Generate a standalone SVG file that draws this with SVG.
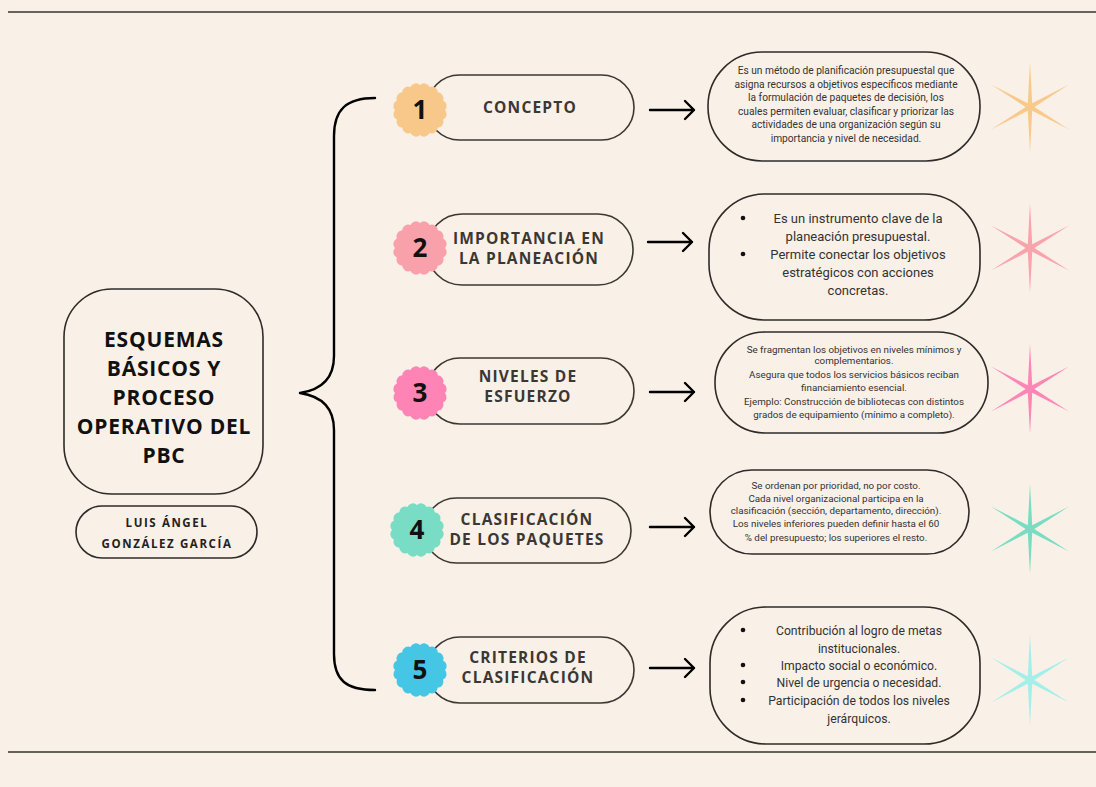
<svg xmlns="http://www.w3.org/2000/svg" xmlns:xlink="http://www.w3.org/1999/xlink" width="1096" height="787" viewBox="0 0 1096 787">
<defs>
<style>
.hd{font-family:"Open Sans","Noto Sans",sans-serif;font-weight:700;fill:#3b3733;text-anchor:middle;font-size:15.5px;letter-spacing:1.2px}
.ttl{font-family:"Open Sans","Noto Sans",sans-serif;font-weight:700;fill:#111;text-anchor:middle;font-size:21px;letter-spacing:0.8px}
.au{font-family:"Open Sans","Noto Sans",sans-serif;font-weight:700;fill:#222;text-anchor:middle;font-size:11.5px;letter-spacing:1.6px}
.num{font-family:"Open Sans","Noto Sans",sans-serif;font-weight:700;fill:#111;text-anchor:middle;font-size:26px}
.bd{font-family:Roboto,"Liberation Sans",sans-serif;fill:#333;text-anchor:middle}
.box{fill:none;stroke:#2e2b29;stroke-width:1.6}
.pill{fill:none;stroke:#3b3733;stroke-width:1.6}
.conn{fill:none;stroke:#000;stroke-width:2.4;stroke-linecap:round;stroke-linejoin:round}
</style>
<path id="badge" d="M25 0 A6 6 0 0 1 23.1 9.57 A6 6 0 0 1 17.68 17.68 A6 6 0 0 1 9.57 23.1 A6 6 0 0 1 0 25 A6 6 0 0 1 -9.57 23.1 A6 6 0 0 1 -17.68 17.68 A6 6 0 0 1 -23.1 9.57 A6 6 0 0 1 -25 0 A6 6 0 0 1 -23.1 -9.57 A6 6 0 0 1 -17.68 -17.68 A6 6 0 0 1 -9.57 -23.1 A6 6 0 0 1 0 -25 A6 6 0 0 1 9.57 -23.1 A6 6 0 0 1 17.68 -17.68 A6 6 0 0 1 23.1 -9.57 A6 6 0 0 1 25 0 Z"/>
<path id="star" d="M0 -45 L2.2 -3.8 L38.97 -22.5 L4.4 0 L38.97 22.5 L2.2 3.8 L0 45 L-2.2 3.8 L-38.97 22.5 L-4.4 0 L-38.97 -22.5 L-2.2 -3.8 Z"/>
</defs>
<rect width="1096" height="787" fill="#f9f0e7"/>
<line x1="8" y1="12" x2="1096" y2="12" stroke="#333" stroke-width="1.3"/>
<line x1="8" y1="752" x2="1096" y2="752" stroke="#333" stroke-width="1.3"/>

<g id="connectors">
<path class="conn" d="M375 98 C346 98 334 110 334 136 L334 356 C334 380 320 390 300 393 C320 396 334 406 334 430 L334 654 C334 680 346 690 375 690"/>
<path class="conn" d="M650 110 H694 M685 101 L694 110 L685 119"/>
<path class="conn" d="M648 242 H692 M683 233 L692 242 L683 251"/>
<path class="conn" d="M650 392 H694 M685 383 L694 392 L685 401"/>
<path class="conn" d="M650 527 H694 M685 518 L694 527 L685 536"/>
<path class="conn" d="M650 668 H694 M685 659 L694 668 L685 677"/>
</g>

<g id="title">
<rect x="64" y="289" width="199" height="205" rx="48" class="box"/>
<text class="ttl"><tspan x="164" y="347">ESQUEMAS</tspan><tspan x="164" y="376">BÁSICOS Y</tspan><tspan x="164" y="405">PROCESO</tspan><tspan x="164" y="434">OPERATIVO DEL</tspan><tspan x="164" y="463">PBC</tspan></text>
</g>

<g id="author">
<rect x="76" y="506" width="181" height="52" rx="26" class="box"/>
<text class="au"><tspan x="167" y="527">LUIS ÁNGEL</tspan><tspan x="167" y="548">GONZÁLEZ GARCÍA</tspan></text>
</g>

<g id="n1">
<rect x="427" y="75" width="207" height="65" rx="32.5" class="pill"/>
<use xlink:href="#badge" href="#badge" x="420" y="110" fill="#f8c88b"/>
<text class="num" x="420" y="119">1</text>
<text class="hd" x="530" y="113">CONCEPTO</text>
</g>
<g id="n2">
<rect x="427" y="214" width="206" height="71" rx="35" class="pill"/>
<use xlink:href="#badge" href="#badge" x="420" y="248" fill="#f9a1ab"/>
<text class="num" x="420" y="257">2</text>
<text class="hd"><tspan x="529" y="244">IMPORTANCIA EN</tspan><tspan x="529" y="264">LA PLANEACIÓN</tspan></text>
</g>
<g id="n3">
<rect x="427" y="358" width="207" height="66" rx="33" class="pill"/>
<use xlink:href="#badge" href="#badge" x="420" y="393" fill="#fd84b5"/>
<text class="num" x="420" y="402">3</text>
<text class="hd"><tspan x="528" y="382">NIVELES DE</tspan><tspan x="528" y="402">ESFUERZO</tspan></text>
</g>
<g id="n4">
<rect x="424" y="498" width="207" height="65" rx="32.5" class="pill"/>
<use xlink:href="#badge" href="#badge" x="417" y="530" fill="#79dcc4"/>
<text class="num" x="417" y="539">4</text>
<text class="hd"><tspan x="527" y="525">CLASIFICACIÓN</tspan><tspan x="527" y="545">DE LOS PAQUETES</tspan></text>
</g>
<g id="n5">
<rect x="427" y="637" width="207" height="66" rx="33" class="pill"/>
<use xlink:href="#badge" href="#badge" x="420" y="670" fill="#45c6e4"/>
<text class="num" x="420" y="679">5</text>
<text class="hd"><tspan x="528" y="663">CRITERIOS DE</tspan><tspan x="528" y="683">CLASIFICACIÓN</tspan></text>
</g>

<g id="d1">
<rect x="708" y="52" width="272" height="109" rx="54" class="box"/>
<text class="bd" font-size="10.2"><tspan x="846" y="74">Es un método de planificación presupuestal que</tspan><tspan x="846" y="87.5">asigna recursos a objetivos específicos mediante</tspan><tspan x="846" y="101">la formulación de paquetes de decisión, los</tspan><tspan x="846" y="114.5">cuales permiten evaluar, clasificar y priorizar las</tspan><tspan x="846" y="128">actividades de una organización según su</tspan><tspan x="846" y="142">importancia y nivel de necesidad.</tspan></text>
</g>
<g id="d2">
<rect x="709" y="194" width="271" height="126" rx="56" class="box"/>
<circle cx="743" cy="218" r="2.3" fill="#111"/>
<circle cx="743" cy="254" r="2.3" fill="#111"/>
<text class="bd" font-size="13"><tspan x="858" y="222.5">Es un instrumento clave de la</tspan><tspan x="858" y="241">planeación presupuestal.</tspan><tspan x="858" y="258.5">Permite conectar los objetivos</tspan><tspan x="858" y="277">estratégicos con acciones</tspan><tspan x="858" y="294.5">concretas.</tspan></text>
</g>
<g id="d3">
<rect x="715" y="332" width="273" height="101" rx="50" class="box"/>
<text class="bd" font-size="9.8"><tspan x="854" y="352.5">Se fragmentan los objetivos en niveles mínimos y</tspan><tspan x="854" y="363.5">complementarios.</tspan><tspan x="854" y="377.5">Asegura que todos los servicios básicos reciban</tspan><tspan x="854" y="390.5">financiamiento esencial.</tspan><tspan x="854" y="404.5">Ejemplo: Construcción de bibliotecas con distintos</tspan><tspan x="854" y="417.5">grados de equipamiento (mínimo a completo).</tspan></text>
</g>
<g id="d4">
<rect x="710" y="470" width="259" height="84" rx="42" class="box"/>
<text class="bd" font-size="9.8"><tspan x="836" y="488.5">Se ordenan por prioridad, no por costo.</tspan><tspan x="836" y="501.5">Cada nivel organizacional participa en la</tspan><tspan x="836" y="513.5">clasificación (sección, departamento, dirección).</tspan><tspan x="836" y="526.5">Los niveles inferiores pueden definir hasta el 60</tspan><tspan x="836" y="540.5">% del presupuesto; los superiores el resto.</tspan></text>
</g>
<g id="d5">
<rect x="710" y="607" width="270" height="137" rx="56" class="box"/>
<circle cx="743" cy="630" r="2.3" fill="#111"/>
<circle cx="743" cy="665" r="2.3" fill="#111"/>
<circle cx="743" cy="682" r="2.3" fill="#111"/>
<circle cx="743" cy="700" r="2.3" fill="#111"/>
<text class="bd" font-size="12.2"><tspan x="859" y="634.5">Contribución al logro de metas</tspan><tspan x="859" y="652.5">institucionales.</tspan><tspan x="859" y="669.5">Impacto social o económico.</tspan><tspan x="859" y="686.5">Nivel de urgencia o necesidad.</tspan><tspan x="859" y="704.5">Participación de todos los niveles</tspan><tspan x="859" y="722.5">jerárquicos.</tspan></text>
</g>

<g id="stars">
<use xlink:href="#star" href="#star" x="1030" y="107" fill="#f9c98b"/>
<use xlink:href="#star" href="#star" x="1030" y="248" fill="#f9a3ad"/>
<use xlink:href="#star" href="#star" x="1030" y="389" fill="#fd86b7"/>
<use xlink:href="#star" href="#star" x="1030" y="529" fill="#7adcc2"/>
<use xlink:href="#star" href="#star" x="1030" y="680" fill="#a4efe9"/>
</g>
</svg>
